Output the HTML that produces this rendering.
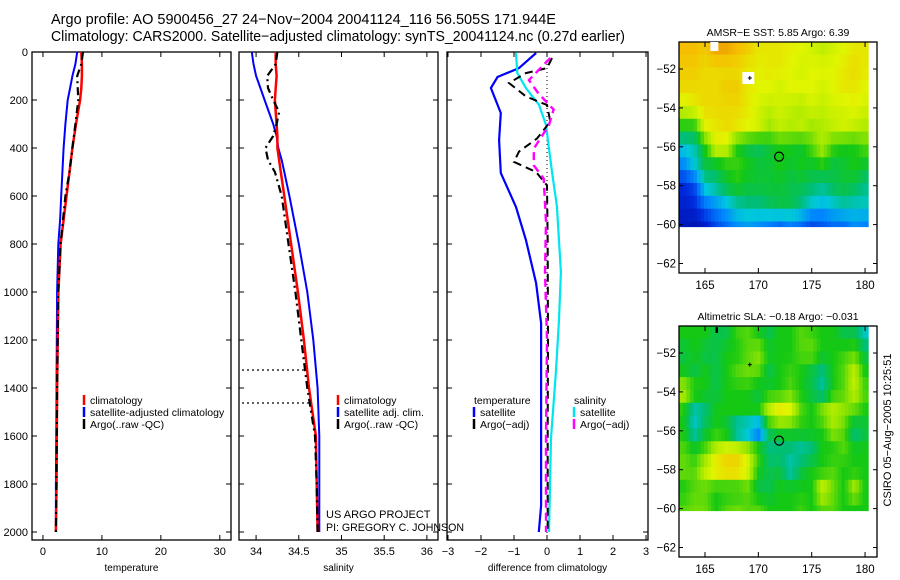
<!DOCTYPE html>
<html><head><meta charset="utf-8"><style>
html,body{margin:0;padding:0;background:#fff}
svg{display:block;font-family:"Liberation Sans",sans-serif}
</style></head><body>
<svg id="fig" width="900" height="580" viewBox="0 0 900 580">
<text x="51" y="24" font-size="14.5">Argo profile: AO 5900456_27 24−Nov−2004 20041124_116 56.505S 171.944E</text>
<text x="51" y="41" font-size="14.5" textLength="574" lengthAdjust="spacingAndGlyphs">Climatology: CARS2000. Satellite−adjusted climatology: synTS_20041124.nc (0.27d earlier)</text>
<text x="326" y="518" font-size="11">US ARGO PROJECT</text>
<text x="326" y="531" font-size="11" textLength="138" lengthAdjust="spacingAndGlyphs">PI: GREGORY C. JOHNSON</text>
<text transform="translate(891,430) rotate(-90)" text-anchor="middle" font-size="11">CSIRO 05−Aug−2005 10:25:51</text>
</svg>
<script>
// ---- data ----
const tDepth=[0,50,100,150,200,300,400,500,600,700,800,900,1000,1200,1400,1600,1800,2000];
const tClim=[6.5,6.6,6.6,6.5,6.3,5.6,5.0,4.5,4.0,3.5,3.0,2.8,2.6,2.5,2.4,2.35,2.3,2.2];
const tSat=[5.8,5.5,5.0,4.6,4.2,3.8,3.5,3.3,3.1,2.9,2.6,2.5,2.4,2.35,2.3,2.25,2.2,2.2];
const tArgo=[6.8,6.5,5.8,5.9,6.0,5.5,5.0,4.5,3.8,3.4,3.0,2.8,2.6,2.5,2.4,2.35,2.3,2.2];
const sDepth=[0,50,100,150,200,250,300,350,400,450,500,600,800,1000,1200,1400,1600,1800,2000];
const sClim=[34.23,34.23,34.24,34.23,34.22,34.23,34.24,34.25,34.25,34.27,34.29,34.33,34.41,34.49,34.56,34.62,34.7,34.71,34.72];
const sSat=[33.95,33.97,34.0,34.05,34.1,34.15,34.2,34.24,34.26,34.3,34.33,34.39,34.5,34.6,34.67,34.72,34.74,34.74,34.74];
const sArgo=[34.25,34.23,34.13,34.14,34.2,34.27,34.24,34.2,34.11,34.14,34.22,34.3,34.38,34.46,34.53,34.6,34.69,34.71,34.72];
const dTDepth=[4,67,104,150,254,367,504,646,783,963,1130,1500,1890,2000];
const dTSat=[-0.33,-0.85,-1.5,-1.7,-1.4,-1.45,-1.4,-0.94,-0.64,-0.33,-0.18,-0.18,-0.18,-0.25];
const dTArgoDepth=[25,67,88,129,185,221,290,360,415,458,500,556,800,1200,1600,2000];
const dTArgo=[0.15,0.0,-0.64,-1.15,-0.64,0.0,0.1,-0.3,-0.85,-1.0,-0.33,0.0,0.02,0.03,0.02,0.02];
const dSDepth=[4,88,150,221,304,500,642,917,1125,1333,1610,2000];
const dSSat=[-0.94,-0.9,-0.64,-0.24,-0.03,0.15,0.3,0.42,0.36,0.27,0.12,0.06];
const dSArgoDepth=[25,117,171,240,304,403,472,528,708,917,1194,1610,2000];
const dSArgo=[0.1,-0.55,-0.27,0.2,0.06,-0.4,-0.4,-0.1,-0.03,-0.06,0,-0.03,-0.03];
const depthTicks=[0,200,400,600,800,1000,1200,1400,1600,1800,2000];
const tTicks=[0,10,20,30];
const sTicks=[34,34.5,35,35.5,36];
const sTickLabels=["34","34.5","35","35.5","36"];
const dTicks=[-3,-2,-1,0,1,2,3];
const lonTicks=[165,170,175,180];
const latTicks=[-52,-54,-56,-58,-60,-62];
const mapLats=[-51,-52,-53,-54,-55,-56,-57,-58,-59,-60];
const mapLons=[163,164,165,166,167,168,169,170,171,172,173,174,175,176,177,178,179,180];
const sstGrid=[
[.82,.82,.8,.85,.85,.82,.8,.76,.76,.76,.75,.74,.72,.7,.72,.74,.76,.76],
[.8,.8,.78,.78,.78,.78,.76,.75,.76,.76,.74,.72,.74,.74,.74,.76,.78,.76],
[.78,.78,.78,.78,.8,.8,.76,.74,.74,.72,.74,.74,.74,.72,.74,.76,.76,.74],
[.72,.75,.78,.78,.78,.78,.76,.72,.7,.72,.7,.68,.72,.7,.72,.72,.74,.72],
[.55,.55,.74,.76,.78,.76,.74,.72,.66,.7,.68,.7,.66,.68,.7,.72,.7,.68],
[.38,.42,.55,.74,.72,.55,.5,.48,.52,.55,.55,.52,.6,.68,.58,.55,.55,.6],
[.28,.38,.5,.5,.55,.58,.55,.52,.52,.55,.52,.55,.52,.55,.5,.52,.55,.52],
[.15,.2,.4,.45,.52,.55,.52,.52,.52,.52,.5,.5,.48,.45,.5,.52,.5,.45],
[.12,.15,.25,.3,.35,.42,.45,.45,.48,.5,.5,.45,.38,.35,.38,.42,.4,.4],
[.1,.08,.12,.2,.25,.3,.32,.3,.28,.25,.28,.25,.2,.22,.25,.25,.3,.28]];
const slaGrid=[
[.55,.55,.55,.5,.5,.58,.6,.55,.5,.55,.55,.6,.58,.55,.55,.5,.5,.4],
[.5,.55,.5,.5,.55,.55,.6,.65,.55,.55,.55,.6,.62,.55,.55,.58,.6,.5],
[.55,.5,.55,.5,.55,.6,.62,.6,.5,.55,.58,.55,.5,.45,.55,.6,.7,.55],
[.7,.6,.55,.5,.55,.55,.55,.5,.55,.55,.6,.55,.5,.42,.55,.6,.7,.6],
[.55,.4,.45,.55,.55,.55,.55,.55,.7,.78,.75,.6,.55,.65,.7,.65,.6,.55],
[.55,.4,.5,.55,.5,.35,.3,.2,.5,.55,.55,.55,.55,.55,.65,.6,.45,.5],
[.6,.55,.6,.7,.75,.75,.7,.6,.45,.45,.45,.42,.45,.55,.55,.6,.55,.55],
[.62,.6,.72,.8,.82,.82,.75,.55,.5,.5,.4,.5,.55,.55,.6,.55,.55,.55],
[.55,.6,.6,.55,.55,.55,.6,.5,.5,.55,.55,.55,.55,.72,.62,.55,.68,.55],
[.6,.62,.62,.55,.6,.62,.6,.6,.55,.55,.55,.58,.55,.6,.6,.55,.55,.55]];
const argoLon=171.944, argoLat=-56.505;

const NS="http://www.w3.org/2000/svg";
const svg=document.getElementById('fig');
function mk(tag,attrs,parent){const e=document.createElementNS(NS,tag);for(const k in attrs)e.setAttribute(k,attrs[k]);(parent||svg).appendChild(e);return e;}
function txt(x,y,s,attrs){const e=mk('text',Object.assign({x:x,y:y,'font-size':11},attrs||{}));e.textContent=s;return e;}

const yTop=52,yBot=540;
const yD=d=>yTop+d*0.24;
function panel(name,x0,x1,dom,ticks,labels,xlabel,showY){
  const sx=v=>x0+(v-dom[0])/(dom[1]-dom[0])*(x1-x0);
  const g=mk('g',{});
  
  
  mk('rect',{x:x0,y:yTop,width:x1-x0,height:yBot-yTop,fill:'none',stroke:'#000','stroke-width':1.3},g);
  ticks.forEach((t,i)=>{const x=sx(t);
    mk('line',{x1:x,x2:x,y1:yBot,y2:yBot-5,stroke:'#000'},g);
    mk('line',{x1:x,x2:x,y1:yTop,y2:yTop+5,stroke:'#000'},g);
    g.appendChild(txt(x,yBot+15,labels[i],{'text-anchor':'middle'}));});
  depthTicks.forEach(d=>{const y=yD(d);
    mk('line',{x1:x0,x2:x0+5,y1:y,y2:y,stroke:'#000'},g);
    mk('line',{x1:x1,x2:x1-5,y1:y,y2:y,stroke:'#000'},g);
    if(showY){g.appendChild(txt(x0-4,y+4,String(d),{'text-anchor':'end'}));}});
  g.appendChild(txt((x0+x1)/2,yBot+31,xlabel,{'text-anchor':'middle','font-size':10}));
  return {sx,g};
}
function series(p,vals,deps,color,dash,w,name){
  const pts=vals.map((v,i)=>p.sx(v).toFixed(1)+','+yD(deps[i]).toFixed(1)).join(' ');
  const a={points:pts,fill:'none',stroke:color,'stroke-width':w||2};
  if(dash)a['stroke-dasharray']=dash;
  const e=mk('polyline',a,p.g);
  
  
}
function legend(p,x,y,items){
  items.forEach((it,i)=>{const yy=y+i*12;
    if(it.c){mk('line',{x1:x,x2:x,y1:yy-9,y2:yy+1,stroke:it.c,'stroke-width':2.5},p.g);}
    const t=txt(x+(it.c?6:0),yy,it.t,{'font-size':10.5});p.g.appendChild(t);
    
    });
}
const p1=panel('temperature-panel',32,231,[-1.86,31.9],tTicks,tTicks.map(String),'temperature',true);
series(p1,tSat,tDepth,'#0000ff',null,2,'temp-satellite-line');
series(p1,tClim,tDepth,'#ff0000',null,2.5,'temp-climatology-line');
series(p1,tArgo,tDepth,'#000',"8,4,2,4",2.2,'temp-argo-line');
legend(p1,84,404,[{c:'#ff0000',t:'climatology'},{c:'#0000ff',t:'satellite-adjusted climatology'},{c:'#000',t:'Argo(..raw -QC)'}]);
const p2=panel('salinity-panel',239,438,[33.8,36.13],sTicks,sTickLabels,'salinity',false);
series(p2,sSat,sDepth,'#0000ff',null,2,'sal-satellite-line');
series(p2,sClim,sDepth,'#ff0000',null,2.5,'sal-climatology-line');
series(p2,sArgo,sDepth,'#000',"8,4,2,4",2.2,'sal-argo-line');
mk('line',{x1:242,x2:306,y1:370,y2:370,stroke:'#000','stroke-dasharray':'2,3','stroke-width':1.3},p2.g);
mk('line',{x1:242,x2:310,y1:403,y2:403,stroke:'#000','stroke-dasharray':'2,3','stroke-width':1.3},p2.g);
legend(p2,338,404,[{c:'#ff0000',t:'climatology'},{c:'#0000ff',t:'satellite adj. clim.'},{c:'#000',t:'Argo(..raw -QC)'}]);
const p3=panel('difference-panel',447,648,[-3.03,3.06],dTicks,dTicks.map(v=>v<0?'−'+(-v):String(v)),'difference from climatology',false);
mk('line',{x1:p3.sx(0),x2:p3.sx(0),y1:yTop,y2:yBot,stroke:'#000','stroke-dasharray':'1,3'},p3.g);
series(p3,dTSat,dTDepth,'#0000ff',null,2.2,'diff-temp-satellite-line');
series(p3,dSSat,dSDepth,'#00e5ee',null,2.2,'diff-sal-satellite-line');
series(p3,dTArgo,dTArgoDepth,'#000',"8,5",2,'diff-temp-argo-line');
series(p3,dSArgo,dSArgoDepth,'#ff00ff',"8,5",2.4,'diff-sal-argo-line');
legend(p3,474,404,[{c:null,t:'temperature'},{c:'#0000ff',t:'satellite'},{c:'#000',t:'Argo(−adj)'}]);
legend(p3,574,404,[{c:null,t:'salinity'},{c:'#00e5ee',t:'satellite'},{c:'#ff00ff',t:'Argo(−adj)'}]);

// colormap
const stops=[[0,[0,0,130]],[0.15,[0,40,220]],[0.28,[0,130,255]],[0.38,[0,200,220]],[0.46,[0,190,120]],[0.55,[20,200,20]],[0.65,[150,230,0]],[0.74,[225,245,0]],[0.82,[245,190,0]],[0.9,[235,130,0]],[1,[200,80,0]]];
function cmap(v){v=Math.max(0,Math.min(1,v));
  for(let i=1;i<stops.length;i++){if(v<=stops[i][0]){const a=stops[i-1],b=stops[i],f=(v-a[0])/(b[0]-a[0]);
    return 'rgb('+a[1].map((c,k)=>Math.round(c+(b[1][k]-c)*f)).join(',')+')';}}
  return 'rgb(200,80,0)';}
function sample(grid,r,c){r=Math.max(0,Math.min(grid.length-1,r));c=Math.max(0,Math.min(grid[0].length-1,c));
  const r0=Math.floor(r),c0=Math.floor(c),r1=Math.min(r0+1,grid.length-1),c1=Math.min(c0+1,grid[0].length-1),fr=r-r0,fc=c-c0;
  return grid[r0][c0]*(1-fr)*(1-fc)+grid[r0][c1]*(1-fr)*fc+grid[r1][c0]*fr*(1-fc)+grid[r1][c1]*fr*fc;}
function map(name,top,title,grid){
  const x0=679,x1=877,b=top+231;
  const lx=lon=>705+(lon-165)*10.67;
  const ly=lat=>top+27+(-52-lat)*19.45;
  const g=mk('g',{});
  
  
  const lonStart=162.6,lonEnd=180.3,latStart=-50.6,latEnd=-60.1,step=0.33;
  for(let lat=latStart;lat>latEnd-1e-6;lat-=step*2){
    for(let lon=lonStart;lon<lonEnd-1e-6;lon+=step){
      const cLat=lat-step, cLon=lon+step/2;
      const r=(mapLats[0]-cLat), c=(cLon-mapLons[0]);
      const v=sample(grid,r,c);
      const xs=Math.max(lx(lon),x0), xe=Math.min(lx(lon+step),lx(lonEnd));
      const ys=Math.max(ly(lat),top), ye=Math.min(ly(lat-step*2),ly(latEnd));
      if(xe<=xs||ye<=ys)continue;
      const cell=mk('rect',{x:xs.toFixed(1),y:ys.toFixed(1),width:(xe-xs+0.5).toFixed(1),height:(ye-ys+0.5).toFixed(1),fill:cmap(v)},g);
      
      
    }
  }
  mk('rect',{x:x0,y:top,width:x1-x0,height:b-top,fill:'none',stroke:'#000','stroke-width':1.3},g);
  lonTicks.forEach(l=>{const x=lx(l);mk('line',{x1:x,x2:x,y1:b,y2:b-5,stroke:'#000'},g);mk('line',{x1:x,x2:x,y1:top,y2:top+5,stroke:'#000'},g);
    g.appendChild(txt(x,b+16,String(l),{'text-anchor':'middle','font-size':11.5}));});
  latTicks.forEach(l=>{const y=ly(l);mk('line',{x1:x0,x2:x0+4,y1:y,y2:y,stroke:'#000'},g);mk('line',{x1:x1,x2:x1-4,y1:y,y2:y,stroke:'#000'},g);
    g.appendChild(txt(676,y+4,'−'+(-l),{'text-anchor':'end','font-size':11.5}));});
  g.appendChild(txt(778,top-6,title,{'text-anchor':'middle','font-size':10.5}));
  const m=mk('circle',{cx:lx(argoLon),cy:ly(argoLat),r:4.5,fill:'none',stroke:'#000','stroke-width':1.2},g);
  
  
  mk('path',{d:`M${lx(166.1)},${top+1} l0,6`,stroke:'#000','stroke-width':2.5},g);
  mk('path',{d:`M${lx(169.2)-2},${ly(-52.6)} l4,0 M${lx(169.2)},${ly(-52.6)-2} l0,4`,stroke:'#000','stroke-width':1},g);
  return g;
}
map('sst-map',42,'AMSR−E SST: 5.85 Argo: 6.39',sstGrid);
const sstTop=42;
mk('rect',{x:705+(165.5-165)*10.67,y:sstTop,width:8,height:9,fill:'#fff'});
mk('rect',{x:705+(168.5-165)*10.67,y:sstTop+30,width:12,height:12,fill:'#fff'});
mk('path',{d:`M${705+(169.2-165)*10.67-2},${sstTop+36} l4,0 M${705+(169.2-165)*10.67},${sstTop+34} l0,4`,stroke:'#000','stroke-width':1});
map('sla-map',326,'Altimetric SLA: −0.18 Argo: −0.031',slaGrid);
</script>
</body></html>
